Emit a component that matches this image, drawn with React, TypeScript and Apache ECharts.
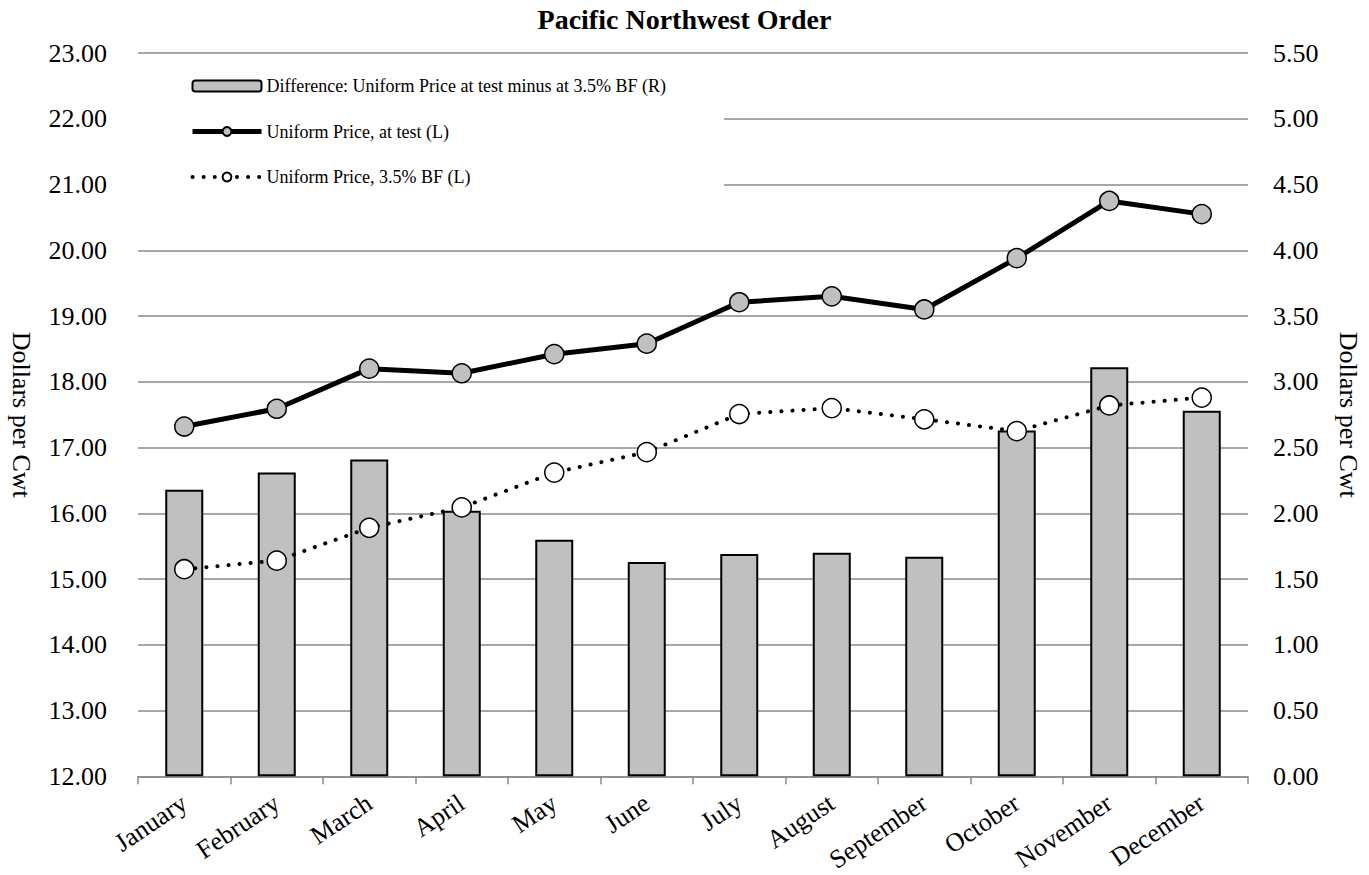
import React, { useEffect, useRef } from "react";
import * as echarts from "echarts";

const months = ["January", "February", "March", "April", "May", "June", "July", "August", "September", "October", "November", "December"];
const difference = [2.18, 2.31, 2.41, 2.02, 1.80, 1.63, 1.69, 1.70, 1.67, 2.63, 3.11, 2.78];
const priceAtTest = [17.32, 17.59, 18.20, 18.13, 18.42, 18.58, 19.21, 19.30, 19.10, 19.88, 20.75, 20.55];
const price35BF = [15.15, 15.28, 15.78, 16.09, 16.62, 16.93, 17.51, 17.60, 17.43, 17.25, 17.64, 17.76];

const nameDiff = "Difference: Uniform Price at test minus at 3.5% BF (R)";
const nameTest = "Uniform Price, at test (L)";
const nameBF = "Uniform Price, 3.5% BF (L)";

const FONT = "'Liberation Serif', 'Times New Roman', serif";
const GRID = "#8a8a8a";

export default function App() {
  const ref = useRef<HTMLDivElement>(null);
  useEffect(() => {
    if (!ref.current) return;
    const chart = echarts.init(ref.current, undefined, { renderer: "svg" });
    chart.setOption({
      animation: false,
      backgroundColor: "#fff",
      textStyle: { fontFamily: FONT },
      title: {
        text: "Pacific Northwest Order",
        left: "center",
        top: 0,
        textStyle: { fontFamily: FONT, fontSize: 28, fontWeight: "bold", color: "#000" },
      },
      legend: {
        orient: "vertical",
        left: 138,
        top: 60,
        padding: [17, 58, 20, 52],
        backgroundColor: "#fff",
        itemWidth: 69,
        itemHeight: 11,
        itemGap: 27.5,
        textStyle: { fontFamily: FONT, fontSize: 18, color: "#000" },
        lineStyle: { width: "inherit" },
        data: [nameDiff, nameTest, nameBF],
      },
      grid: { left: 138, right: 121, top: 53, bottom: 98, containLabel: false },
      xAxis: {
        type: "category",
        data: months,
        boundaryGap: true,
        axisLine: { lineStyle: { color: GRID, width: 1.5 } },
        axisTick: { show: true, length: 8, lineStyle: { color: GRID, width: 1.5 } },
        axisLabel: { rotate: 34, fontSize: 26, fontFamily: FONT, color: "#000", margin: 24, interval: 0 },
      },
      yAxis: [
        {
          type: "value",
          min: 12,
          max: 23,
          interval: 1,
          name: "Dollars per Cwt",
          nameLocation: "middle",
          nameRotate: -90,
          nameGap: 104,
          nameTextStyle: { fontFamily: FONT, fontSize: 26, color: "#000" },
          axisLine: { show: false },
          axisTick: { show: false },
          axisLabel: { fontSize: 26, fontFamily: FONT, color: "#000", margin: 31, formatter: (v: number) => v.toFixed(2) },
          splitLine: { lineStyle: { color: GRID, width: 1.5 } },
        },
        {
          type: "value",
          min: 0,
          max: 5.5,
          interval: 0.5,
          name: "Dollars per Cwt",
          nameLocation: "middle",
          nameRotate: -90,
          nameGap: 87,
          nameTextStyle: { fontFamily: FONT, fontSize: 26, color: "#000" },
          axisLine: { show: false },
          axisTick: { show: false },
          axisLabel: { fontSize: 26, fontFamily: FONT, color: "#000", margin: 25, formatter: (v: number) => v.toFixed(2) },
          splitLine: { show: false },
        },
      ],
      series: [
        {
          name: nameDiff,
          type: "bar",
          yAxisIndex: 1,
          data: difference,
          barWidth: 38,
          itemStyle: { color: "#c0c0c0", borderColor: "#000", borderWidth: 2 },
          z: 2,
        },
        {
          name: nameTest,
          type: "line",
          yAxisIndex: 0,
          data: priceAtTest,
          symbol: "circle",
          symbolSize: 19,
          lineStyle: { color: "#000", width: 5 },
          itemStyle: { color: "#c0c0c0", borderColor: "#000", borderWidth: 1.5 },
          z: 3,
        },
        {
          name: nameBF,
          type: "line",
          yAxisIndex: 0,
          data: price35BF,
          symbol: "circle",
          symbolSize: 19,
          lineStyle: { color: "#000", width: 4, type: [0.1, 11], cap: "round" },
          itemStyle: { color: "#fff", borderColor: "#000", borderWidth: 1.5 },
          z: 4,
        },
      ],
    });
    return () => chart.dispose();
  }, []);
  return <div ref={ref} style={{ width: 1369, height: 875, position: "absolute", left: 0, top: 0 }} />;
}
